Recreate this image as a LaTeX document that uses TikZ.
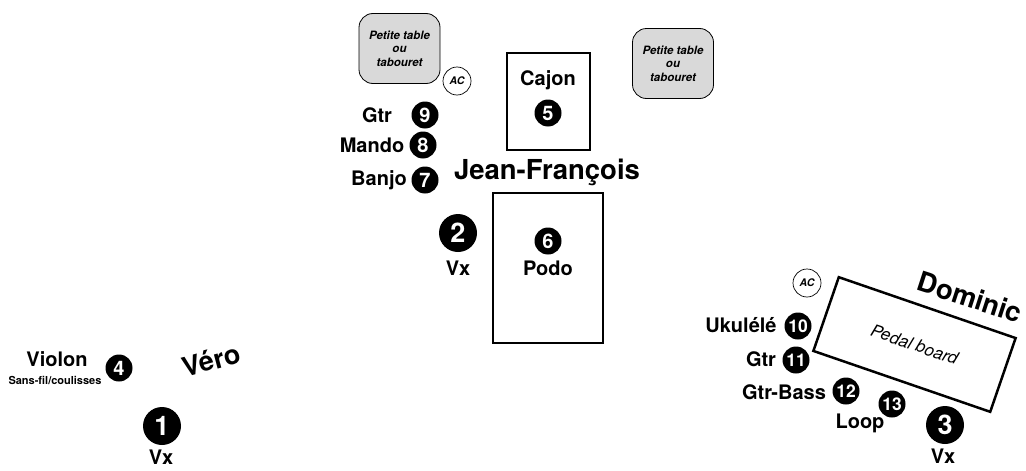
\documentclass[tikz,border=0pt]{standalone}
\usepackage{fontspec}
\setmainfont{TeX Gyre Heros}
\begin{document}
\begin{tikzpicture}[x=1pt,y=-1pt,
  lbl/.style={font=\bfseries\fontsize{20}{20}\selectfont, inner sep=0pt},
  small/.style={font=\bfseries\fontsize{11}{11}\selectfont, inner sep=0pt},
  big/.style={font=\bfseries\fontsize{27.5}{27.5}\selectfont, inner sep=0pt},
  num/.style={circle, fill=black, text=white, minimum size=27pt, inner sep=0pt, font=\bfseries\fontsize{20}{20}\selectfont},
  numtwo/.style={num, font=\bfseries\fontsize{17.5}{17.5}\selectfont},
  bignum/.style={num, minimum size=38pt, font=\bfseries\fontsize{27}{27}\selectfont},
  tablebox/.style={draw, fill=gray!30, rounded corners=14pt, line width=0.8pt, minimum width=81pt, minimum height=70pt, align=center, inner sep=0pt, font=\bfseries\itshape\fontsize{11.5}{13.5}\selectfont},
  acnode/.style={draw, circle, minimum size=28pt, inner sep=0pt, line width=0.7pt, font=\bfseries\itshape\fontsize{10.5}{10.5}\selectfont},
  thickbox/.style={draw, line width=2.5pt, inner sep=0pt}
]
\useasboundingbox (0,0) rectangle (1026,471);

% Jean-Francois area
\node[tablebox] (t1) at (399.5,48.5) {Petite table\\ou\\tabouret};
\node[tablebox] (t2) at (673,63.5) {Petite table\\ou\\tabouret};
\node[acnode] (ac1) at (457,81) {AC};
\node[thickbox, minimum width=83pt, minimum height=97pt] (cajon) at (548.5,101.5) {};
\node[lbl] (cajont) at (548,80) {Cajon};
\node[num] (n5) at (548,113) {5};
\node[lbl] (gtr1) at (377,115) {Gtr};
\node[num] (n9) at (425,115) {9};
\node[lbl] (mando) at (372,145) {Mando};
\node[num] (n8) at (423,145) {8};
\node[lbl] (banjo) at (379,180) {Banjo};
\node[num] (n7) at (425,180) {7};
\node[big] (jf) at (547,172) {Jean-François};
\node[thickbox, minimum width=110pt, minimum height=150pt] (podo) at (548,268) {};
\node[num] (n6) at (548,241) {6};
\node[lbl] (podot) at (548,268) {Podo};
\node[bignum] (n2) at (458,233) {2};
\node[lbl] (vx2) at (458,268) {Vx};

% Vero area
\node[lbl] (violon) at (57,359) {Violon};
\node[small] (sansfil) at (55,380) {Sans-fil/coulisses};
\node[num] (n4) at (119,368) {4};
\node[rotate=15, inner sep=0pt, font=\bfseries\fontsize{27}{27}\selectfont] (vero) at (211,360) {Véro};
\node[bignum] (n1) at (162,426) {1};
\node[lbl] (vx1) at (161,457) {Vx};

% Dominic area
\node[acnode] (ac2) at (807,283) {AC};
\node[thickbox, rotate=-19, minimum width=187pt, minimum height=78pt, font=\itshape\fontsize{17}{17}\selectfont] (pedal) at (914.5,344.5) {Pedal board};
\node[big, rotate=-18] (dominic) at (970,297) {Dominic};
\node[lbl] (ukulele) at (741,325) {Ukulélé};
\node[numtwo] (n10) at (798,326) {10};
\node[lbl] (gtr2) at (761,359) {Gtr};
\node[numtwo] (n11) at (796,360) {11};
\node[lbl] (gtrbass) at (784,392) {Gtr-Bass};
\node[numtwo] (n12) at (846,391) {12};
\node[numtwo] (n13) at (892,404) {13};
\node[lbl] (loop) at (860,423) {Loop};
\node[bignum] (n3) at (945,425) {3};
\node[lbl] (vx3) at (943,456) {Vx};
\end{tikzpicture}
\end{document}
